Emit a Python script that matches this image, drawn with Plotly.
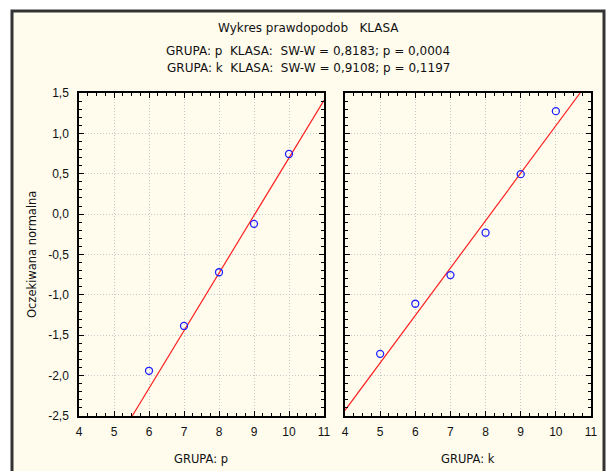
import plotly.graph_objects as go
from plotly.subplots import make_subplots

W, H = 616, 471

# ---- data ----
p_x = [6, 7, 8, 9, 10]
p_y = [-1.94, -1.385, -0.72, -0.12, 0.745]
p_line_x = [5.52, 11.0]
p_line_y = [-2.5, 1.41]

k_x = [5, 6, 7, 8, 9, 10]
k_y = [-1.73, -1.11, -0.755, -0.23, 0.495, 1.275]
k_line_x = [4.0, 10.69]
k_line_y = [-2.43, 1.5]

x_ticks = [4, 5, 6, 7, 8, 9, 10, 11]
x_tick_labels = ["4", "5", "6", "7", "8", "9", "10", "11"]
y_ticks = [-2.5, -2.0, -1.5, -1.0, -0.5, 0.0, 0.5, 1.0, 1.5]
y_tick_labels = ["-2,5", "-2,0", "-1,5", "-1,0", "-0,5", "0,0", "0,5", "1,0", "1,5"]

title_lines = [
    "Wykres prawdopodob   KLASA",
    "GRUPA: p  KLASA:  SW-W = 0,8183; p = 0,0004",
    "GRUPA: k  KLASA:  SW-W = 0,9108; p = 0,1197",
]
y_title = "Oczekiwana normalna"
x_titles = ["GRUPA: p", "GRUPA: k"]

FONT = "Liberation Sans, Arial, sans-serif"
TFONT = "DejaVu Sans, Verdana, sans-serif"

fig = make_subplots(rows=1, cols=2)

for col, (xs, ys, lx, ly) in enumerate(
    [(p_x, p_y, p_line_x, p_line_y), (k_x, k_y, k_line_x, k_line_y)], start=1
):
    fig.add_trace(go.Scatter(x=lx, y=ly, mode="lines",
                             line=dict(color="#ff2020", width=1.2),
                             showlegend=False, hoverinfo="skip"), row=1, col=col)
    fig.add_trace(go.Scatter(x=xs, y=ys, mode="markers",
                             marker=dict(symbol="circle-open", size=7,
                                         color="#2020ff", line=dict(width=1.3)),
                             showlegend=False), row=1, col=col)

def px2x(p):
    return p / W

def px2y(p):
    return 1 - p / H

y_dom = [px2y(416), px2y(93)]
x_doms = [[px2x(79), px2x(324)], [px2x(345), px2x(591)]]

axis_common = dict(
    showline=True, linecolor="black", linewidth=1.5, mirror="allticks",
    ticks="inside", ticklen=5, tickcolor="black", tickwidth=1,
    showgrid=True, gridcolor="#c8c8c8", griddash="1px,2px", gridwidth=1,
    zeroline=False, tickfont=dict(family=FONT, size=12, color="#111"),
    automargin=False,
)

for i, xa in enumerate(["xaxis", "xaxis2"]):
    fig.layout[xa].update(
        domain=x_doms[i], range=[4, 11], tickmode="array",
        tickvals=x_ticks, ticktext=x_tick_labels, ticklabelstandoff=4,
        minor=dict(ticks="inside", ticklen=3, dtick=0.25, tickcolor="black",
                   showgrid=False),
        **axis_common)
for i, ya in enumerate(["yaxis", "yaxis2"]):
    fig.layout[ya].update(
        domain=y_dom, range=[-2.5, 1.5], tickmode="array",
        tickvals=y_ticks, ticktext=y_tick_labels,
        showticklabels=(i == 0), ticklabelstandoff=6,
        minor=dict(ticks="inside", ticklen=3, dtick=0.1, tickcolor="black",
                   showgrid=False),
        **axis_common)

# outer frame
fig.add_shape(type="rect", xref="paper", yref="paper",
              x0=px2x(12), x1=px2x(604), y0=px2y(480), y1=px2y(11),
              fillcolor="#fffcee", line=dict(color="#333333", width=3),
              layer="below")

anns = []
for txt, yp in zip(title_lines, [28, 51, 68]):
    anns.append(dict(text=txt, x=px2x(308), y=px2y(yp), xref="paper", yref="paper",
                     showarrow=False, xanchor="center", yanchor="middle",
                     font=dict(family=TFONT, size=12, color="#111")))
anns.append(dict(text=y_title, x=px2x(32), y=px2y(255), xref="paper", yref="paper",
                 showarrow=False, textangle=-90, xanchor="center", yanchor="middle",
                 font=dict(family=TFONT, size=11.5, color="#111")))
for txt, xp in zip(x_titles, [201, 468]):
    anns.append(dict(text=txt, x=px2x(xp), y=px2y(459), xref="paper", yref="paper",
                     showarrow=False, xanchor="center", yanchor="middle",
                     font=dict(family=TFONT, size=11.5, color="#111")))

fig.update_layout(
    width=W, height=H, margin=dict(l=0, r=0, t=0, b=0, pad=0, autoexpand=False),
    paper_bgcolor="white", plot_bgcolor="white",
    annotations=anns, showlegend=False,
)

fig.write_html("out.html", config={"displayModeBar": False},
               post_script="document.body.style.margin='0';"
                           "document.body.style.overflow='hidden';")
